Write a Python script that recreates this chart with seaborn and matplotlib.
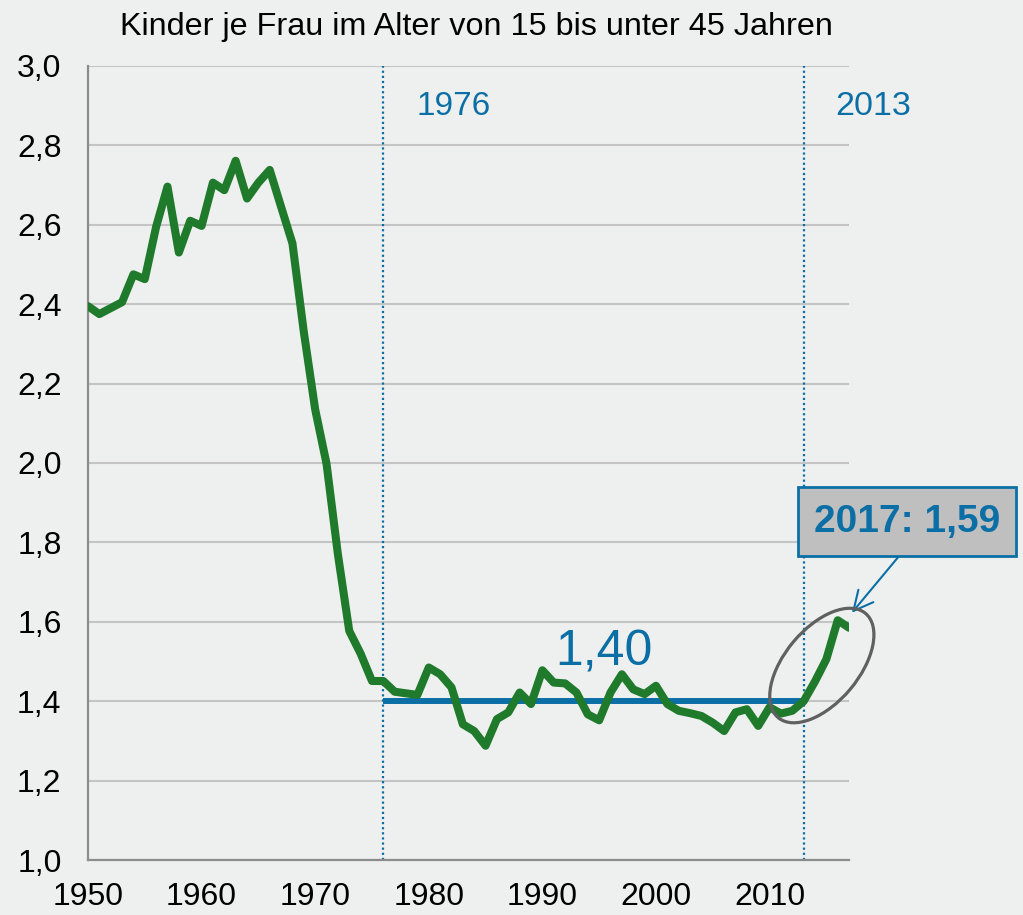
import matplotlib
matplotlib.use("Agg")
import matplotlib.pyplot as plt
import matplotlib.transforms as mtransforms
from matplotlib.patches import Ellipse
from matplotlib.ticker import MultipleLocator, FuncFormatter
import seaborn as sns
import pandas as pd

# Kinder je Frau (15 bis unter 45 Jahre)
years = list(range(1950, 2018))
children = [
    2.395, 2.375, 2.39, 2.405, 2.475, 2.463, 2.595, 2.696, 2.53, 2.61,
    2.597, 2.706, 2.687, 2.761, 2.666, 2.706, 2.738, 2.645, 2.553, 2.33,
    2.135, 1.998, 1.77, 1.577, 1.52, 1.451, 1.451, 1.424, 1.42, 1.416,
    1.485, 1.468, 1.435, 1.342, 1.325, 1.288, 1.355, 1.372, 1.422, 1.393,
    1.478, 1.447, 1.445, 1.422, 1.367, 1.352, 1.422, 1.468, 1.43, 1.418,
    1.439, 1.393, 1.376, 1.37, 1.363, 1.346, 1.325, 1.372, 1.38, 1.338,
    1.385, 1.369, 1.376, 1.40, 1.45, 1.506, 1.604, 1.585,
]
plateau_years = [1976, 2013]
plateau_value = 1.40
last_year, last_value = 2017, 1.59

title = "Kinder je Frau im Alter von 15 bis unter 45 Jahren"

GREEN = "#1f7a2b"
BLUE = "#0b6fa6"
BG = "#eef0ef"
GRID = "#c4c4c4"
AXIS = "#8c8c8c"

sns.set_style("white", rc={"axes.facecolor": BG, "figure.facecolor": BG,
                           "text.color": "black", "xtick.color": "black",
                           "ytick.color": "black"})
plt.rcParams['font.family'] = ['Liberation Sans', 'DejaVu Sans']

df = pd.DataFrame({"Jahr": years, "Kinder": children})

fig = plt.figure(figsize=(10.23, 9.15), dpi=100)
ax = fig.add_axes([0.086, 0.060, 0.744, 0.868])

ax.set_xlim(1950, 2017)
ax.set_ylim(1.0, 3.0)

# Gitter
ax.yaxis.set_major_locator(MultipleLocator(0.2))
ax.grid(axis="y", color=GRID, lw=1.5, zorder=0)
ax.set_axisbelow(True)

# senkrechte gepunktete Linien
for yr in plateau_years:
    ax.axvline(yr, color=BLUE, lw=1.6, ls=(0, (1, 1.3)), zorder=2)

# Mittelwert-Linie
ax.plot(plateau_years, [plateau_value, plateau_value], color=BLUE, lw=4.3,
        solid_capstyle="butt", zorder=3)

sns.lineplot(data=df, x="Jahr", y="Kinder", ax=ax, color=GREEN, lw=5.8,
             zorder=4)

# Achsen
for s in ["top", "right"]:
    ax.spines[s].set_visible(False)
for s in ["left", "bottom"]:
    ax.spines[s].set_color(AXIS)
    ax.spines[s].set_linewidth(1.6)

ax.xaxis.set_major_locator(MultipleLocator(5))
ax.xaxis.set_major_formatter(FuncFormatter(lambda v, p: f"{int(v)}" if int(v) % 10 == 0 else ""))
ax.yaxis.set_major_formatter(FuncFormatter(lambda v, p: f"{v:.1f}".replace(".", ",")))
ax.tick_params(axis="x", direction="out", length=6, width=1.6, color=AXIS,
               labelcolor="black", labelsize=23, pad=10)
ax.tick_params(axis="y", direction="out", length=8, width=1.6, color=AXIS,
               labelcolor="black", labelsize=23, pad=11)
ax.set_xlabel("")
ax.set_ylabel("")

# Beschriftungen
fig.text(0.466, 0.962, title, ha="center", va="baseline", fontsize=23.3,
         color="black")
ax.text(1982.2, 2.876, str(plateau_years[0]), ha="center", va="baseline",
        fontsize=24, color=BLUE)
ax.text(2019.1, 2.876, str(plateau_years[1]), ha="center", va="baseline",
        fontsize=24.5, color=BLUE)
ax.text(1995.4, 1.489, f"{plateau_value:.2f}".replace(".", ","), ha="center",
        va="baseline", fontsize=36, color=BLUE)

# Ellipse um den Anstieg
trans = fig.dpi_scale_trans + mtransforms.ScaledTranslation(2014.6, 1.49, ax.transData)
ax.add_patch(Ellipse((0, 0), width=1.36, height=0.74, angle=50, transform=trans,
                     fill=False, ec="#606060", lw=2.3, zorder=5, clip_on=False))

ax.annotate(f"{last_year}: {last_value:.2f}".replace(".", ","),
            xy=(2017.25, 1.623), xytext=(2022.1, 1.852),
            ha="center", va="center", fontsize=28, fontweight="bold",
            color=BLUE, annotation_clip=False,
            bbox=dict(boxstyle="square,pad=0.42", fc="#bfbfbf", ec=BLUE, lw=2),
            arrowprops=dict(arrowstyle="->,head_length=0.5,head_width=0.25",
                            color=BLUE, lw=1.5, relpos=(0.53, 0.0),
                            shrinkA=0, shrinkB=0))

fig.savefig("out.png", dpi=100, facecolor=BG)
